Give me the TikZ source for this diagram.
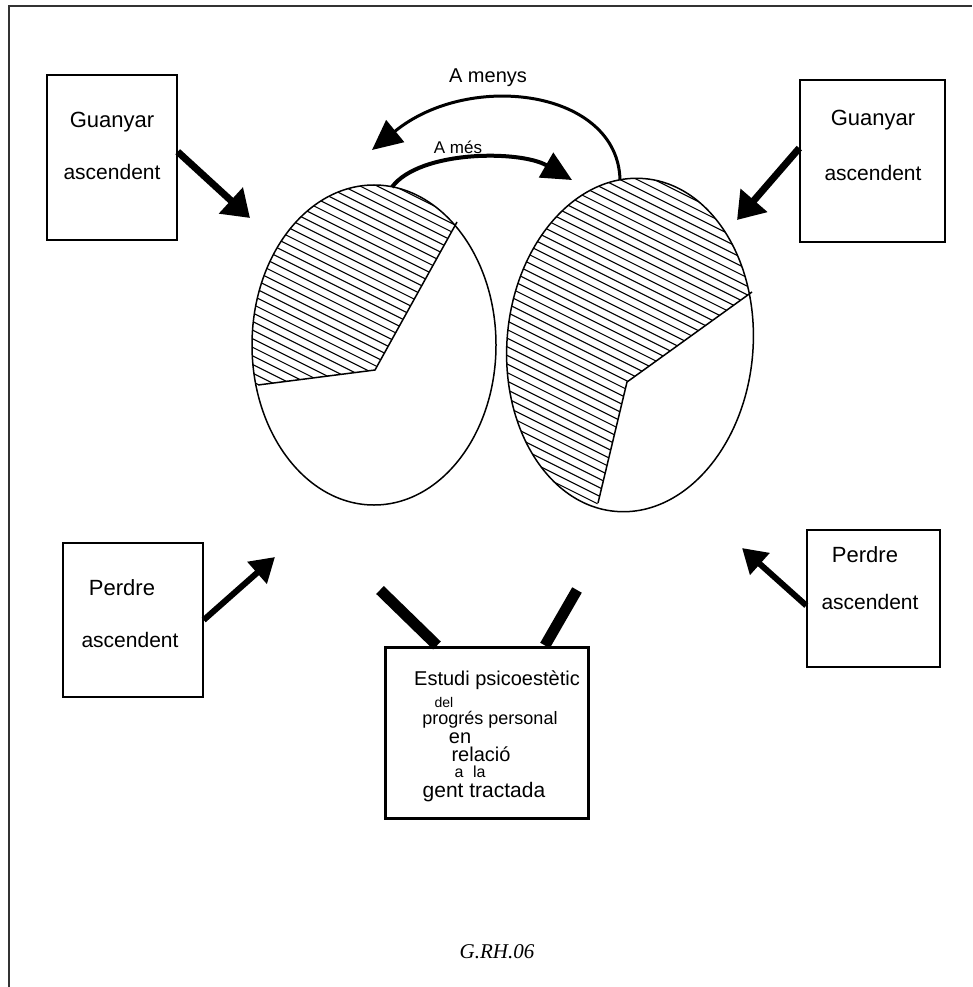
\documentclass[tikz,border=0pt]{standalone}
\usepackage{fontspec}
\setmainfont{Liberation Serif}
\newfontfamily\handfont{Liberation Sans}
\usetikzlibrary{arrows.meta}
\begin{document}
\begin{tikzpicture}[x=1pt,y=-1pt,
  box/.style={draw,line width=1.4pt,inner sep=0pt},
  hand/.style={font=\handfont\fontsize{#1}{#1}\selectfont,inner sep=0pt},
  hatch/.style={line width=1.1pt},
  pie/.style={line width=1.5pt},
  bigarrow/.style={line width=7pt,-{Triangle[length=26pt,width=34pt]}},
  midarrow/.style={line width=6pt,-{Triangle[length=24pt,width=28pt]}},
  arcarrow/.style={line width=#1,-{Triangle[length=30pt,width=28pt]}},
  leg/.style={line width=11pt}]
\useasboundingbox (0,0) rectangle (972,987);
% frame
\draw[line width=2pt,black!80] (9,987) -- (9,6) -- (972,6);

% left pie
\begin{scope}
  \clip (374,345) ellipse [x radius=122pt, y radius=160pt];
  \clip (375,370) -- (140,400) -- (140,60) -- (546,60) -- cycle;
  \foreach \k in {0,...,56} \draw[hatch] (200,{20+8.6*\k}) -- (560,{200+8.6*\k});
\end{scope}
\draw[pie] (374,345) ellipse [x radius=122pt, y radius=160pt];
\draw[pie] (258,385) -- (375,370) -- (457,222);

% right pie
\begin{scope}
  \clip[rotate around={-5:(630,345)}] (630,345) ellipse [x radius=123pt, y radius=167pt];
  \clip (627,382) -- (583,564) -- (450,564) -- (450,120) -- (830,120) -- (814,247) -- cycle;
  \foreach \k in {0,...,60} \draw[hatch] (450,{8.6*\k}) -- (780,{165+8.6*\k});
\end{scope}
\draw[pie,rotate around={-5:(630,345)}] (630,345) ellipse [x radius=123pt, y radius=167pt];
\draw[pie] (752,292) -- (627,382) -- (598,503);

% boxes
\node[box,minimum width=130pt,minimum height=165pt] (gl) at (112,157.5) {};
\node[box,minimum width=145pt,minimum height=162pt] (gr) at (872.5,161) {};
\node[box,minimum width=140pt,minimum height=154pt] (pl) at (133,620) {};
\node[box,minimum width=133pt,minimum height=137pt] (pr) at (873.5,598.5) {};
\node[box,line width=3pt,minimum width=203pt,minimum height=171pt] (cb) at (486.5,732.5) {};

% box texts
\node[hand=22] (gl1) at (112,122) {Guanyar};
\node[hand=21] (gl2) at (112,172) {ascendent};
\node[hand=22] (gr1) at (873,120) {Guanyar};
\node[hand=21] (gr2) at (873,173) {ascendent};
\node[hand=22] (pl1) at (122,588) {Perdre};
\node[hand=21] (pl2) at (130,640) {ascendent};
\node[hand=22] (pr1) at (865,555) {Perdre};
\node[hand=21] (pr2) at (870,602) {ascendent};

\node[hand=20] (c1) at (497,680) {Estudi psicoestètic};
\node[hand=14] (c2) at (444,702) {del};
\node[hand=18] (c3) at (490,720) {progrés personal};
\node[hand=20] (c4) at (460,738) {en};
\node[hand=20] (c5) at (481,754) {relació};
\node[hand=16] (c6) at (470,772) {a\hspace{0.6em}la};
\node[hand=21] (c7) at (484,792) {gent tractada};

% arrow tips
\coordinate (tgl) at (250,218);
\coordinate (tgr) at (737,220);
\coordinate (tpl) at (275,557);
\coordinate (tpr) at (742,548);
\draw[bigarrow] (gl.5) -- (tgl);
\draw[bigarrow] (gr.170) -- (tgr);
\draw[midarrow] (pl.east) -- (tpl);
\draw[midarrow] (pr.186) -- (tpr);

% legs
\coordinate (l1) at (380,590);
\coordinate (l2) at (577,590);
\draw[leg] (l1) -- (cb.north -| 437,0);
\draw[leg] (l2) -- (cb.north -| 545,0);

% top arcs
\coordinate (ma) at (620,180);
\coordinate (mb) at (372,150);
\coordinate (sa) at (392,187);
\coordinate (sb) at (572,180);
\draw[arcarrow=3pt] (ma) .. controls (618,90) and (470,70) .. (mb);
\draw[arcarrow=4pt] (sa) .. controls (420,150) and (520,150) .. (sb);
\node[hand=20] (menys) at (488,78) {A menys};
\node[hand=17] (mes) at (458,147) {A més};

% signature
\node[font=\itshape\fontsize{21}{21}\selectfont,inner sep=0pt] (sig) at (497,952) {G.RH.06};
\end{tikzpicture}
\end{document}
